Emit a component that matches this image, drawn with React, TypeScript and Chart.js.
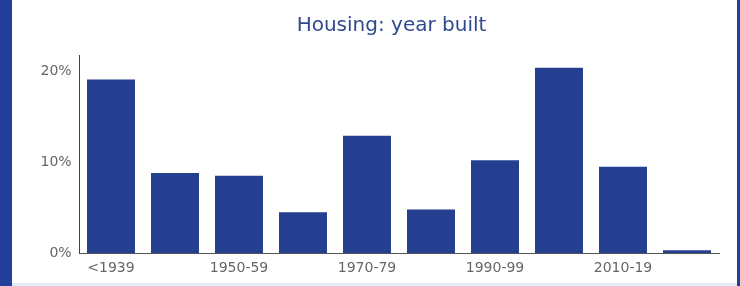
import React, { useEffect, useRef } from 'react';
import { Chart, registerables } from 'chart.js';

Chart.register(...registerables);

const categories = ['<1939', '1940-49', '1950-59', '1960-69', '1970-79', '1980-89', '1990-99', '2000-09', '2010-19', '2020+'];
const shares = [19.1, 8.8, 8.5, 4.5, 12.9, 4.8, 10.2, 20.4, 9.5, 0.3];
const shownXLabels = ['<1939', '1950-59', '1970-79', '1990-99', '2010-19'];
const yMax = 21.8;
const yStep = 10;
const titleText = 'Housing: year built';

const BAR = '#243f8f';
const FRAME = '#22409a';
const FONT = '"DejaVu Sans", Verdana, sans-serif';

export default function App() {
  const ref = useRef<HTMLCanvasElement>(null);

  useEffect(() => {
    const chart = new Chart(ref.current as HTMLCanvasElement, {
      type: 'bar',
      data: {
        labels: categories,
        datasets: [
          {
            data: shares,
            backgroundColor: BAR,
            borderWidth: 0,
            barPercentage: 0.75,
            categoryPercentage: 1,
          },
        ],
      },
      options: {
        animation: false,
        responsive: false,
        maintainAspectRatio: false,
        devicePixelRatio: 1,
        layout: { padding: { left: 64, right: 21, top: 0, bottom: 0 } },
        plugins: {
          legend: { display: false },
          tooltip: { enabled: false },
          title: {
            display: true,
            text: titleText,
            color: '#2f4a8c',
            font: { family: FONT, size: 20, weight: 'normal' },
            padding: { top: 14, bottom: 17 },
          },
        },
        scales: {
          x: {
            grid: { display: false, drawTicks: false },
            border: { display: true, color: '#555', width: 1 },
            ticks: {
              autoSkip: false,
              maxRotation: 0,
              minRotation: 0,
              padding: 7,
              color: '#666',
              font: { family: FONT, size: 14 },
              callback: (_v: any, i: number) => (shownXLabels.includes(categories[i]) ? categories[i] : ''),
            },
            afterFit: (s: any) => {
              s.height = 33;
            },
          },
          y: {
            min: 0,
            max: yMax,
            grid: { display: false, drawTicks: false },
            border: { display: true, color: '#444', width: 1 },
            ticks: {
              stepSize: yStep,
              includeBounds: false,
              mirror: true,
              crossAlign: 'far',
              padding: -38.5,
              color: '#666',
              font: { family: FONT, size: 14 },
              callback: (v: any) => `${v}%`,
            },
            afterFit: (s: any) => {
              s.width = 15;
            },
          },
        },
      },
    } as any);
    return () => chart.destroy();
  }, []);

  return (
    <div style={{ position: 'fixed', left: 0, top: 0, width: 740, height: 286, background: '#fff', overflow: 'hidden' }}>
      <canvas ref={ref} width={740} height={286} style={{ position: 'absolute', left: 0, top: 0, display: 'block' }} />
      <div style={{ position: 'absolute', left: 0, top: 0, width: 12, height: 286, background: FRAME }} />
      <div style={{ position: 'absolute', left: 737, top: 0, width: 3, height: 286, background: FRAME }} />
      <div style={{ position: 'absolute', left: 12, top: 283, width: 725, height: 3, background: '#e4ecf7' }} />
    </div>
  );
}
